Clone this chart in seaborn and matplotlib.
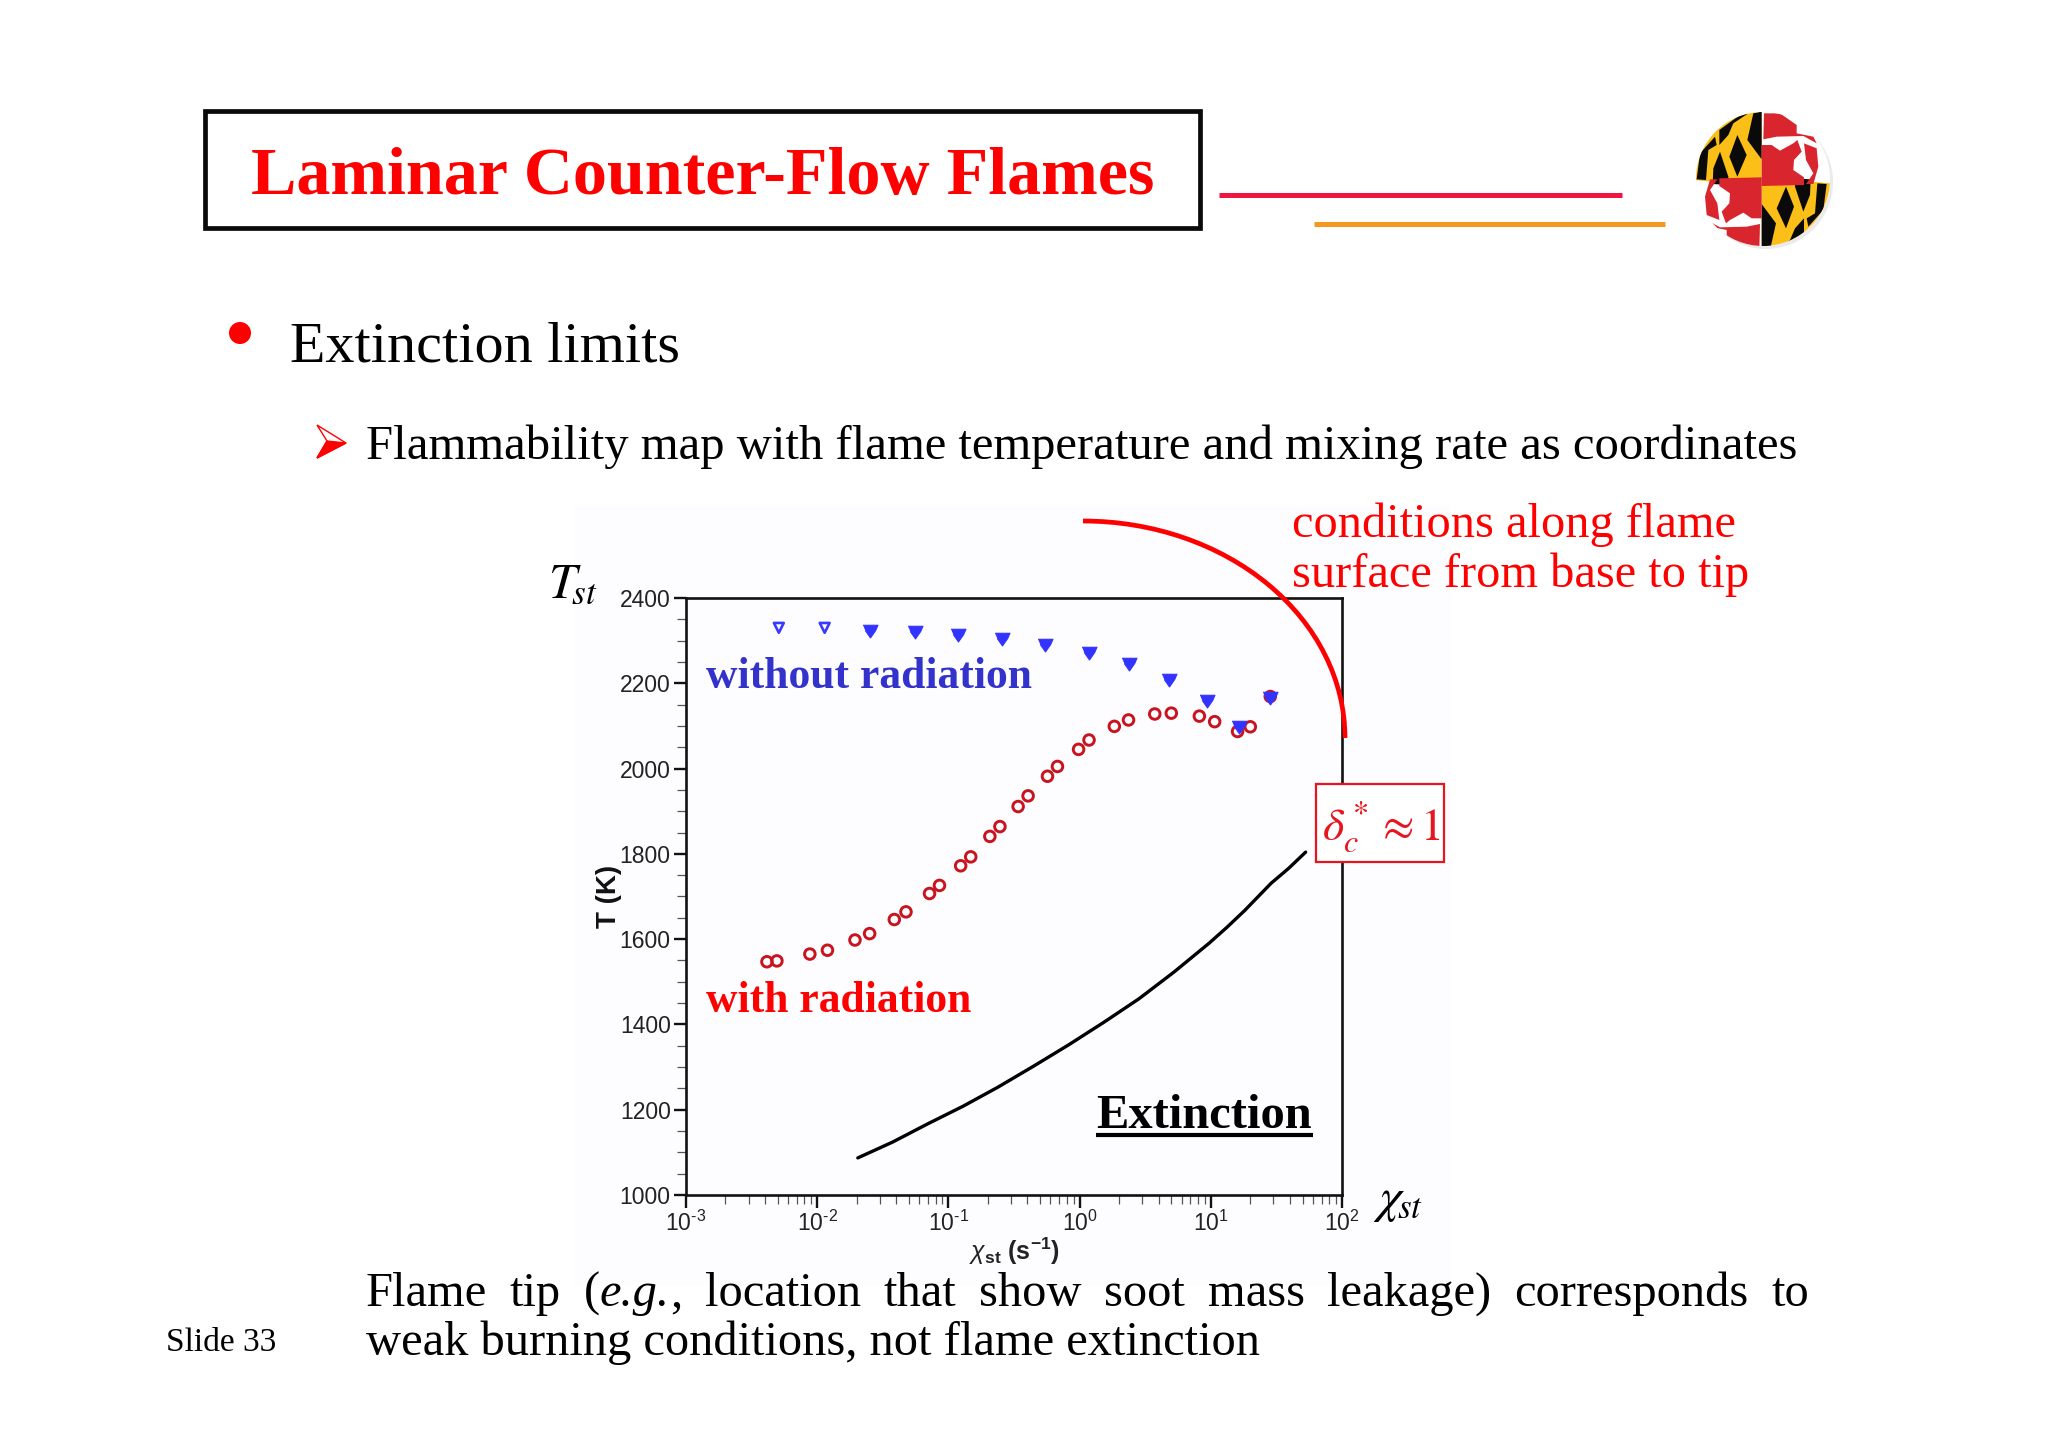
import numpy as np
import pandas as pd
import seaborn as sns
import matplotlib
matplotlib.use('Agg')
import matplotlib.pyplot as plt
from matplotlib.patches import Rectangle, Arc, Circle, Polygon
from matplotlib.ticker import FixedLocator, FixedFormatter, LogLocator, NullFormatter

# values
chi_blue = [0.0051, 0.0114, 0.0251, 0.0555, 0.118, 0.255, 0.546, 1.17, 2.40, 4.84, 9.35, 16.3, 28.4]
T_blue = [2330, 2330, 2326, 2322, 2315, 2306, 2293, 2273, 2247, 2210, 2160, 2101, 2169]
chi_red = [0.00414, 0.00493, 0.00879, 0.01197, 0.0194, 0.0251, 0.0387, 0.0475, 0.0718, 0.0855,
           0.124, 0.148, 0.207, 0.247, 0.340, 0.405, 0.569, 0.678, 0.982, 1.18,
           1.84, 2.36, 3.74, 5.0, 8.18, 10.7, 16.0, 20.0, 28.4]
T_red = [1547, 1549, 1565, 1574, 1598, 1613, 1646, 1664, 1707, 1726,
         1772, 1793, 1841, 1864, 1911, 1936, 1982, 2005, 2045, 2067,
         2099, 2114, 2128, 2130, 2123, 2110, 2087, 2098, 2169]
chi_ext = [0.0204, 0.0375, 0.0697, 0.129, 0.239, 0.445, 0.824, 1.53, 2.83, 5.25, 9.75, 13.3, 18.1, 28.8, 39.2, 52.8]
T_ext = [1087, 1124, 1167, 1208, 1253, 1302, 1352, 1405, 1460, 1523, 1591, 1628, 1667, 1731, 1766, 1804]

y_ticks = [1000, 1200, 1400, 1600, 1800, 2000, 2200, 2400]
x_ticks = [1e-3, 1e-2, 1e-1, 1e0, 1e1, 1e2]
x_labels = ['$\\mathregular{10^{\u20103}}$', '$\\mathregular{10^{\u20102}}$', '$\\mathregular{10^{\u20101}}$',
            '$\\mathregular{10^{0}}$', '$\\mathregular{10^{1}}$', '$\\mathregular{10^{2}}$']

W, H = 2048, 1447
sns.set_theme(style='ticks')
plt.rcParams['font.family'] = ['Liberation Serif', 'DejaVu Sans']
plt.rcParams['mathtext.fontset'] = 'custom'
plt.rcParams['mathtext.rm'] = 'Liberation Sans'
plt.rcParams['mathtext.bf'] = 'Liberation Sans:bold'
plt.rcParams['mathtext.it'] = 'Liberation Sans:italic'

fig = plt.figure(figsize=(W / 100, H / 100), dpi=100, facecolor='white')

# pale backing of the pasted plot
bg = fig.add_axes([0, 0, 1, 1], zorder=0)
bg.set_xlim(0, W)
bg.set_ylim(H, 0)
bg.axis('off')
bg.add_patch(Rectangle((574, 505), 877, 780, fc='#fdfcfe', ec='none'))

# ---- the chart
L, R, T, B = 686, 1342, 598, 1195
ax = fig.add_axes([L / W, 1 - B / H, (R - L) / W, (B - T) / H], zorder=1)
ax.patch.set_alpha(0)

squat_v = [(-1, 0.7), (1, 0.7), (0.7, 0), (0, -1), (-0.7, 0)]

sns.lineplot(x=chi_ext, y=T_ext, color='black', lw=2.4, ax=ax, sort=False)
sns.scatterplot(x=chi_red, y=T_red, marker='o', s=58, facecolor='none', edgecolor='#c8141e',
                linewidth=2.1, ax=ax, zorder=3)
sns.scatterplot(x=chi_blue[:2], y=T_blue[:2], marker='v', s=50, facecolor='none', edgecolor='#3a3aff',
                linewidth=1.9, ax=ax, zorder=4)
sns.scatterplot(x=chi_blue[2:], y=T_blue[2:], marker=squat_v, s=115, color='#3333ff', edgecolor='#3333ff',
                linewidth=0.8, ax=ax, zorder=4)

ax.set_xscale('log')
ax.set_xlim(1e-3, 1e2)
ax.set_ylim(1000, 2400)
ax.xaxis.set_major_locator(FixedLocator(x_ticks))
ax.xaxis.set_major_formatter(FixedFormatter(x_labels))
ax.xaxis.set_minor_locator(LogLocator(base=10, subs=range(2, 10), numticks=12))
ax.xaxis.set_minor_formatter(NullFormatter())
ax.yaxis.set_major_locator(FixedLocator(y_ticks))
ax.yaxis.set_minor_locator(FixedLocator(list(range(1000, 2401, 50))))
ax.tick_params(axis='both', which='major', length=9, width=1.7, color='#111111', labelsize=16.5, pad=2)
ax.tick_params(axis='both', which='minor', length=6.5, width=0.9, color='#555555')
for lab in ax.get_xticklabels() + ax.get_yticklabels():
    lab.set_family('Liberation Sans')
    lab.set_color('#222222')
for s in ax.spines.values():
    s.set_visible(True)
    s.set_linewidth(1.9)
    s.set_color('#111111')
ax.set_xlabel('$\\chi_{\\mathbf{st}}\\ \\mathbf{(s^{-1})}$', fontsize=18, color='#222222', labelpad=0)
ax.set_ylabel('T (K)', family='Liberation Sans', weight='bold', fontsize=20, color='#111111', labelpad=-2)

# ---- everything on the slide around it, in pixel coordinates
ov = fig.add_axes([0, 0, 1, 1], zorder=5)
ov.set_xlim(0, W)
ov.set_ylim(H, 0)
ov.axis('off')

RED = '#ff0000'
ov.add_patch(Rectangle((205, 111), 995, 117, fc='white', ec='#0a0a0a', lw=3.4))
ov.text(251, 194, 'Laminar Counter-Flow Flames', color=RED, fontsize=49, weight='bold', va='baseline')
ov.plot([1219, 1622], [195, 195], color='#ee1540', lw=3.6, solid_capstyle='butt')
ov.plot([1314, 1665], [224, 224], color='#f5981e', lw=3.6, solid_capstyle='butt')

ov.add_patch(Circle((240, 333), 11, fc=RED, ec='none'))
ov.text(290, 362, 'Extinction limits', color='black', fontsize=41.9, va='baseline')
ov.add_patch(Polygon([(317, 425), (346, 443), (317, 458), (327, 441)], fc='white', ec=RED, lw=1))
ov.add_patch(Polygon([(327, 441), (346, 443), (317, 458)], fc=RED, ec=RED, lw=1))
ov.text(366, 459, 'Flammability map with flame temperature and mixing rate as coordinates',
        color='black', fontsize=35, va='baseline')

# logo
def lp(pts):
    return [(1600 + x / 3, 80 + y / 3) for x, y in pts]

def flip(pts):
    return [(970 - x, 610 - y) for x, y in pts]

ov.add_patch(Circle((1766, 182), 67, fc='#d8d8d8', ec='none', alpha=0.5))
disc = Circle((1763, 179), 67, fc='white', ec='none')
ov.add_patch(disc)
yellow = [(280, 90), (485, 90), (485, 318), (280, 300)]
blacks = [[(460, 100), (485, 95), (485, 238), (442, 180)],
          [(412, 165), (440, 225), (412, 290), (388, 230)],
          [(360, 215), (385, 290), (385, 315), (338, 312), (340, 265)],
          [(358, 150), (420, 105), (445, 100), (400, 130), (385, 165), (358, 195)],
          [(300, 220), (345, 170), (350, 195), (325, 210), (318, 300), (290, 298)]]
reds = [[(485, 195), (515, 195), (540, 212), (580, 190), (592, 180), (605, 215), (582, 240), (580, 270), (612, 292), (612, 315), (485, 318)],
        [(492, 100), (540, 100), (590, 135), (590, 160), (640, 170), (650, 190), (610, 168), (530, 170), (490, 178)],
        [(612, 190), (650, 205), (655, 260), (640, 312), (618, 312), (640, 280), (618, 240)]]
for pts, col in [(yellow, '#fcbf17'), (flip(yellow), '#fcbf17')]:
    p = Polygon(lp(pts), fc=col, ec='none')
    ov.add_patch(p)
    p.set_clip_path(disc)
for pts in blacks:
    for q in (pts, flip(pts)):
        p = Polygon(lp(q), fc='#0a0a0a', ec='none')
        ov.add_patch(p)
        p.set_clip_path(disc)
for pts in reds:
    for q in (pts, flip(pts)):
        p = Polygon(lp(q), fc='#d9262e', ec='none')
        ov.add_patch(p)
        p.set_clip_path(disc)

# labels on the plot
ov.add_patch(Arc((1083, 738), 524, 434, theta1=270, theta2=360, color=RED, lw=3.4))
ov.text(1292, 537, 'conditions along flame', color=RED, fontsize=34.8, va='baseline')
ov.text(1292, 587, 'surface from base to tip', color=RED, fontsize=34.8, va='baseline')
ov.text(706, 688, 'without radiation', color='#3333cc', fontsize=31.4, weight='bold', va='baseline')
ov.text(706, 1012, 'with radiation', color=RED, fontsize=31.4, weight='bold', va='baseline')
ov.text(1096, 1128, 'Extinction', color='black', fontsize=34.9, weight='bold', va='baseline')
ov.plot([1096, 1313], [1135, 1135], color='black', lw=3, solid_capstyle='butt')
ov.add_patch(Rectangle((1316, 784), 128, 78, fc='white', ec='#e8141e', lw=1.6))
ov.text(1322, 840, '$\\delta_c^*\\approx 1$', color='#e8141e', fontsize=33, math_fontfamily='stix', va='baseline')
ov.text(548, 597, '$T_{\\!st}$', color='black', fontsize=36, math_fontfamily='stix', va='baseline')
ov.text(1373, 1212, '$\\chi_{\\!st}$', color='black', fontsize=36, math_fontfamily='stix', va='baseline')

# justified footer line
footer_1 = [[('Flame', 'normal')], [('tip', 'normal')], [('(', 'normal'), ('e.g.', 'italic'), (',', 'normal')],
            [('location', 'normal')], [('that', 'normal')], [('show', 'normal')], [('soot', 'normal')],
            [('mass', 'normal')], [('leakage)', 'normal')], [('corresponds', 'normal')], [('to', 'normal')]]
fig.canvas.draw()
rend = fig.canvas.get_renderer()

def part_width(txt, style):
    t = ov.text(0, 0, txt, fontsize=34.9, style=style)
    w = t.get_window_extent(rend).width
    t.remove()
    return w

widths = [sum(part_width(s, st) for s, st in word) for word in footer_1]
gap = (1809 - 366 - sum(widths)) / (len(footer_1) - 1)
xpos = 366
for word in footer_1:
    for s, st in word:
        ov.text(xpos, 1306, s, fontsize=34.9, style=st, color='black', va='baseline')
        xpos += part_width(s, st)
    xpos += gap
ov.text(366, 1355, 'weak burning conditions, not flame extinction', fontsize=34.9, color='black', va='baseline')
ov.text(166, 1351, 'Slide 33', fontsize=24, color='black', va='baseline')

fig.savefig('out.png', dpi=100)
